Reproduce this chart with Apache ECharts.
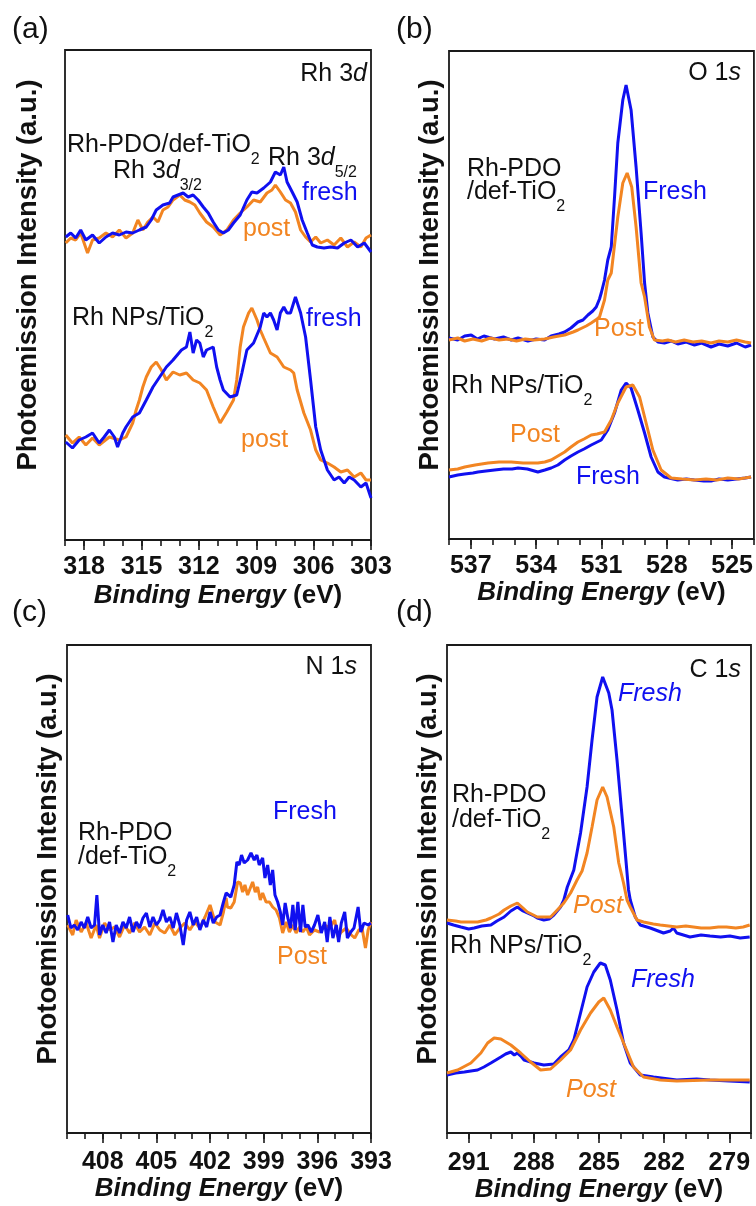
<!DOCTYPE html>
<html>
<head>
<meta charset="utf-8">
<script src="https://cdn.jsdelivr.net/npm/echarts@6/dist/echarts.min.js"></script>
<style>html,body{margin:0;padding:0;background:#fff}#c{width:756px;height:1206px}</style>
</head>
<body>
<div id="c"></div>
<script>
// ---------- tick labels ----------
const ticksA = [318, 315, 312, 309, 306, 303];
const ticksB = [537, 534, 531, 528, 525];
const ticksC = [408, 405, 402, 399, 396, 393];
const ticksD = [291, 288, 285, 282, 279];
const rangeA = [303, 319];
const rangeB = [524, 538];
const rangeC = [393, 410];
const rangeD = [278, 292];

// ---------- (a) Rh 3d ----------
const rhPdoFresh = [[318.96,303],[318.70,307],[318.44,302],[318.18,310],[317.91,300],[317.56,305],[317.21,297],[316.86,303],[316.51,307],[316.16,305],[315.81,308],[315.46,307],[315.11,310],[314.75,313],[314.49,320],[314.23,330],[313.88,335],[313.53,337],[313.35,343],[313.09,345],[312.82,347],[312.56,343],[312.30,345],[312.04,340],[311.77,333],[311.51,327],[311.25,318],[310.98,310],[310.72,307],[310.46,310],[310.19,317],[309.84,325],[309.49,340],[309.23,348],[308.96,347],[308.61,352],[308.26,358],[308.00,368],[307.74,365],[307.56,373],[307.39,358],[307.12,348],[306.86,338],[306.60,320],[306.33,307],[306.07,295],[305.81,293],[305.46,292],[305.11,293],[304.75,292],[304.40,297],[304.05,300],[303.70,293],[303.35,297],[303.00,288]];
const rhPdoPost = [[318.96,297],[318.70,302],[318.44,300],[318.18,307],[317.82,287],[317.56,300],[317.21,302],[316.86,307],[316.51,303],[316.16,310],[315.81,302],[315.46,307],[315.19,320],[314.93,310],[314.67,318],[314.40,323],[314.14,318],[313.88,330],[313.61,333],[313.35,340],[313.00,345],[312.74,340],[312.47,338],[312.21,335],[311.95,327],[311.60,318],[311.25,313],[310.89,305],[310.54,310],[310.19,320],[309.84,327],[309.49,333],[309.14,340],[308.79,338],[308.44,347],[308.18,350],[308.00,355],[307.74,348],[307.47,340],[307.21,337],[306.95,328],[306.68,310],[306.42,303],[306.16,298],[305.89,303],[305.63,297],[305.28,300],[304.93,295],[304.58,302],[304.23,293],[303.88,298],[303.53,293],[303.26,302],[303.00,305]];
const rhNpFresh = [[318.96,98],[318.61,92],[318.26,100],[317.91,103],[317.56,107],[317.21,97],[316.95,103],[316.68,110],[316.42,103],[316.25,93],[315.98,107],[315.81,113],[315.46,123],[315.11,127],[314.75,140],[314.40,153],[314.05,163],[313.70,173],[313.35,180],[312.91,190],[312.65,193],[312.47,208],[312.30,187],[312.12,200],[311.95,197],[311.77,183],[311.60,190],[311.25,193],[311.07,173],[310.89,160],[310.72,150],[310.37,143],[310.02,145],[309.75,167],[309.49,190],[309.14,197],[308.79,213],[308.61,227],[308.44,223],[308.26,227],[308.09,220],[307.91,210],[307.74,227],[307.56,233],[307.39,227],[307.21,227],[306.95,243],[306.68,227],[306.42,203],[306.16,160],[305.89,113],[305.63,90],[305.28,70],[304.93,60],[304.67,63],[304.40,57],[304.14,63],[303.88,60],[303.53,53],[303.26,57],[303.00,42]];
const rhNpPost = [[318.96,105],[318.61,97],[318.26,103],[317.91,95],[317.56,102],[317.21,95],[316.68,103],[316.16,100],[315.81,103],[315.46,117],[315.28,130],[315.11,140],[314.93,153],[314.75,163],[314.49,173],[314.23,178],[313.96,170],[313.70,160],[313.35,168],[313.00,165],[312.65,167],[312.30,160],[311.95,157],[311.60,150],[311.25,133],[310.89,117],[310.54,128],[310.19,140],[310.02,160],[309.84,193],[309.67,213],[309.40,227],[309.23,232],[308.96,220],[308.79,210],[308.61,202],[308.26,187],[307.91,183],[307.56,173],[307.21,170],[307.04,167],[306.86,150],[306.51,127],[306.16,110],[305.89,90],[305.63,80],[305.28,77],[304.93,73],[304.58,68],[304.23,70],[303.88,63],[303.53,67],[303.26,60],[303.00,60]];

// ---------- (b) O 1s ----------
const oPdoFresh = [[538.0,201],[537.6,199],[537.28,203],[536.98,204],[536.7,200],[536.4,203],[535.91,200],[535.5,202],[535.14,199],[534.83,201],[534.38,198],[534.0,200],[533.61,199],[533.31,203],[532.95,205],[532.69,207],[532.4,211],[532.08,217],[531.85,219],[531.62,224],[531.4,228],[531.24,232],[531.09,240],[531.01,246],[530.86,259],[530.71,279],[530.55,292],[530.40,342],[530.25,396],[530.02,439],[529.87,454],[529.64,429],[529.41,372],[529.18,306],[529.02,256],[528.87,226],[528.64,202],[528.41,197],[528.11,196],[527.8,198],[527.5,195],[527.1,197],[526.73,194],[526.4,196],[525.97,192],[525.6,195],[525.2,193],[524.8,196],[524.4,192],[524.13,194]];
const oPdoPost = [[538.0,199],[537.6,201],[537.28,198],[536.9,200],[536.5,198],[536.1,201],[535.7,199],[535.3,200],[534.9,198],[534.5,200],[534.1,199],[533.61,200],[533.2,202],[532.69,204],[532.3,207],[532.08,209],[531.7,213],[531.47,216],[531.2,220],[531.09,222],[530.86,239],[530.71,259],[530.55,266],[530.25,322],[530.02,356],[529.82,366],[529.61,352],[529.41,312],[529.18,256],[529.02,242],[528.80,212],[528.57,199],[528.2,198],[527.95,199],[527.6,197],[527.2,199],[526.8,197],[526.4,198],[525.97,196],[525.6,198],[525.2,197],[524.8,199],[524.4,197],[524.13,196]];
const oNpFresh = [[538.0,62],[537.6,64],[537.28,65],[536.9,66],[536.67,67],[536.3,68],[535.91,69],[535.5,70],[535.1,70],[534.83,71],[534.4,70],[533.92,67],[533.6,69],[533.31,71],[533.0,74],[532.69,79],[532.4,83],[532.08,87],[531.8,90],[531.47,94],[531.01,99],[530.71,109],[530.40,126],[530.09,149],[529.87,156],[529.64,151],[529.33,129],[529.02,106],[528.72,82],[528.41,67],[528.11,62],[527.50,59],[527.1,60],[526.73,59],[526.3,58],[525.97,58],[525.6,60],[525.20,59],[524.8,60],[524.4,61],[524.13,62]];
const oNpPost = [[538.0,69],[537.6,70],[537.28,72],[536.8,74],[536.21,76],[535.7,77],[535.14,77],[534.6,76],[533.92,76],[533.6,77],[533.31,79],[533.0,83],[532.69,87],[532.4,92],[532.08,97],[531.8,100],[531.47,104],[531.2,105],[530.86,107],[530.55,119],[530.25,136],[529.87,152],[529.56,154],[529.25,142],[528.95,116],[528.64,89],[528.26,69],[527.80,61],[527.3,60],[526.73,59],[526.2,60],[525.7,59],[525.20,61],[524.7,60],[524.13,62]];

// ---------- (c) N 1s ----------
const nPdoFresh = [[409.96,218],[409.78,205],[409.59,208],[409.40,203],[409.21,211],[409.03,205],[408.84,216],[408.65,205],[408.46,208],[408.33,238],[408.18,198],[408.00,208],[407.81,200],[407.62,211],[407.43,191],[407.25,208],[407.06,200],[406.87,211],[406.69,205],[406.50,216],[406.31,201],[406.12,211],[405.94,205],[405.75,215],[405.56,220],[405.37,206],[405.19,216],[405.00,208],[404.81,213],[404.63,223],[404.44,211],[404.25,216],[404.06,205],[403.88,220],[403.69,208],[403.50,188],[403.31,213],[403.13,221],[402.94,208],[402.75,216],[402.57,203],[402.38,213],[402.19,206],[402.00,221],[401.82,210],[401.63,216],[401.44,218],[401.25,231],[401.10,240],[401.03,238],[400.84,236],[400.65,248],[400.50,271],[400.37,268],[400.24,278],[400.09,270],[399.90,273],[399.71,280],[399.53,273],[399.38,278],[399.25,268],[399.06,275],[398.93,255],[398.78,268],[398.63,248],[398.50,263],[398.37,238],[398.22,231],[398.07,221],[397.94,208],[397.80,230],[397.65,215],[397.50,205],[397.37,228],[397.24,203],[397.09,231],[396.94,201],[396.81,228],[396.68,206],[396.53,208],[396.34,201],[396.16,208],[395.97,218],[395.78,200],[395.59,211],[395.45,191],[395.30,216],[395.13,195],[394.94,208],[394.81,191],[394.66,210],[394.47,221],[394.32,195],[394.13,201],[393.95,205],[393.72,226],[393.57,201],[393.39,210],[393.16,208],[393.00,210]];
const nPdoPost = [[409.96,208],[409.68,198],[409.49,213],[409.21,201],[408.93,210],[408.65,195],[408.37,208],[408.18,195],[407.90,210],[407.62,203],[407.34,206],[407.06,196],[406.78,208],[406.50,200],[406.22,210],[405.94,201],[405.66,206],[405.37,198],[405.09,210],[404.81,203],[404.53,200],[404.25,208],[403.97,198],[403.69,205],[403.41,210],[403.13,203],[402.85,211],[402.57,205],[402.28,216],[402.00,228],[401.72,211],[401.44,208],[401.25,221],[401.10,235],[401.03,226],[400.84,225],[400.65,231],[400.46,251],[400.31,250],[400.18,241],[400.05,248],[399.90,238],[399.75,245],[399.62,251],[399.47,241],[399.34,246],[399.19,233],[399.06,240],[398.87,231],[398.68,231],[398.50,226],[398.31,223],[398.12,215],[397.94,200],[397.75,211],[397.56,201],[397.37,208],[397.19,200],[397.00,206],[396.81,201],[396.62,206],[396.44,198],[396.16,203],[395.88,201],[395.59,208],[395.31,205],[395.03,213],[394.85,196],[394.66,201],[394.38,205],[394.10,198],[393.91,195],[393.68,203],[393.50,205],[393.31,185],[393.16,203],[393.00,211]];

// ---------- (d) C 1s ----------
const cPdoFresh = [[292.00,210],[291.7,208],[291.36,206],[291.0,204],[290.75,205],[290.4,207],[289.98,208],[289.7,212],[289.37,216],[289.06,222],[288.76,226],[288.5,222],[288.30,220],[287.99,217],[287.84,215],[287.54,213],[287.3,214],[287.08,218],[286.77,226],[286.62,233],[286.46,246],[286.16,263],[285.85,300],[285.55,346],[285.32,393],[285.09,436],[284.83,456],[284.55,440],[284.40,423],[284.17,373],[283.87,300],[283.64,243],[283.56,233],[283.33,216],[283.10,208],[282.64,205],[282.03,200],[281.72,202],[281.57,205],[281.42,200],[280.81,196],[280.3,198],[279.89,197],[279.4,196],[278.97,197],[278.5,195],[278.06,196]];
const cPdoPost = [[292.00,213],[291.6,212],[291.36,211],[290.9,211],[290.59,211],[290.2,213],[289.98,215],[289.6,219],[289.37,223],[289.06,227],[288.76,230],[288.5,225],[288.30,221],[287.84,216],[287.5,216],[287.23,216],[286.92,223],[286.62,230],[286.31,240],[286.01,253],[285.78,262],[285.55,280],[285.32,306],[285.09,333],[284.83,346],[284.63,336],[284.32,306],[284.09,270],[283.87,250],[283.71,233],[283.56,226],[283.25,213],[282.95,211],[282.5,209],[282.18,208],[281.8,207],[281.42,206],[281.0,207],[280.65,206],[280.3,205],[279.89,205],[279.5,206],[279.13,206],[278.7,205],[278.36,206],[278.06,208]];
const cNpFresh = [[292.00,58],[291.6,60],[291.20,61],[290.9,62],[290.59,63],[290.3,66],[289.98,70],[289.52,76],[289.3,79],[289.06,81],[288.9,78],[288.76,80],[288.6,77],[288.45,73],[287.99,70],[287.54,68],[287.08,69],[286.77,76],[286.39,83],[286.16,93],[285.85,120],[285.55,146],[285.24,161],[284.94,170],[284.71,168],[284.48,153],[284.17,123],[283.87,90],[283.56,70],[283.10,58],[282.49,56],[281.42,53],[280.5,54],[279.89,53],[279.0,52],[278.06,51]];
const cNpPost = [[292.00,60],[291.51,63],[290.90,70],[290.44,80],[290.13,90],[289.83,95],[289.52,94],[289.06,88],[288.61,80],[288.15,71],[287.69,63],[287.23,64],[286.77,73],[286.31,83],[285.85,103],[285.39,120],[285.01,131],[284.78,135],[284.48,123],[284.17,106],[283.79,86],[283.41,66],[282.95,56],[282.18,53],[281.42,52],[279.89,53],[278.06,53]];

// ---------- styling ----------
const BLUE = '#1010f0';
const ORANGE = '#f28522';
const INK = '#111111';
const FRAME = '#1a1a1a';
const FONT = '"Liberation Sans", Arial, Helvetica, sans-serif';

const grids = [
  {left: 65, top: 50, width: 306, height: 490},
  {left: 449, top: 51, width: 305, height: 488},
  {left: 67, top: 645, width: 304, height: 488},
  {left: 447, top: 645, width: 304, height: 488}
].map(g => Object.assign(g, {show: true, borderColor: FRAME, borderWidth: 1.8, backgroundColor: 'transparent', containLabel: false}));

const ranges = [rangeA, rangeB, rangeC, rangeD];
const ticks = [ticksA, ticksB, ticksC, ticksD];
const labelMargins = [15, 15, 17, 18];
const nameGaps = [43, 35, 42, 43];
const yNameGaps = [23, 5, 5, 5];

const xValueAxes = ranges.map((r, i) => ({
  type: 'value', gridIndex: i, min: r[0], max: r[1], interval: 1, inverse: true,
  position: 'bottom', offset: 0,
  axisLine: {show: false}, splitLine: {show: false},
  axisTick: {show: true, length: 6, lineStyle: {color: FRAME, width: 1.6}},
  axisLabel: {show: false}
}));

const xCatAxes = ranges.map((r, i) => {
  const cats = [];
  for (let v = r[1]; v >= r[0]; v--) cats.push(String(v));
  const isMajor = (idx, val) => ticks[i].indexOf(Number(val)) >= 0;
  return {
    type: 'category', gridIndex: i, data: cats, boundaryGap: false,
    position: 'bottom', offset: 0,
    axisLine: {show: false}, splitLine: {show: false},
    axisTick: {show: true, length: 10, interval: isMajor, lineStyle: {color: FRAME, width: 1.6}},
    axisLabel: {show: true, interval: isMajor, margin: labelMargins[i], fontSize: 25, fontWeight: 'bold', color: INK, fontFamily: FONT},
    name: '{i|Binding Energy} {n|(eV)}',
    nameLocation: 'middle', nameGap: nameGaps[i],
    nameTextStyle: {
      fontSize: 26, fontWeight: 'bold', color: INK, fontFamily: FONT, lineHeight: 26,
      rich: {
        i: {fontSize: 26, fontWeight: 'bold', fontStyle: 'italic', color: INK, fontFamily: FONT, lineHeight: 26},
        n: {fontSize: 26, fontWeight: 'bold', color: INK, fontFamily: FONT, lineHeight: 26}
      }
    }
  };
});

const yAxes = grids.map((g, i) => ({
  type: 'value', gridIndex: i, min: 0, max: g.height,
  axisLine: {show: false}, axisTick: {show: false}, axisLabel: {show: false}, splitLine: {show: false},
  name: 'Photoemission Intensity (a.u.)', nameLocation: 'middle', nameRotate: 90, nameGap: yNameGaps[i],
  nameTextStyle: {fontSize: 27.5, fontWeight: 'bold', color: INK, fontFamily: FONT, padding: [0, 0, 0, 40]}
}));

function line(data, color, panel) {
  return {
    type: 'line', data: data, xAxisIndex: panel, yAxisIndex: panel,
    showSymbol: false, symbol: 'none', smooth: false, clip: true,
    lineStyle: {color: color, width: 3}, itemStyle: {color: color},
    emphasis: {disabled: true}, silent: true, animation: false
  };
}

const series = [
  line(rhPdoPost, ORANGE, 0), line(rhPdoFresh, BLUE, 0),
  line(rhNpPost, ORANGE, 0), line(rhNpFresh, BLUE, 0),
  line(oPdoFresh, BLUE, 1), line(oPdoPost, ORANGE, 1),
  line(oNpFresh, BLUE, 1), line(oNpPost, ORANGE, 1),
  line(nPdoPost, ORANGE, 2), line(nPdoFresh, BLUE, 2),
  line(cPdoFresh, BLUE, 3), line(cPdoPost, ORANGE, 3),
  line(cNpFresh, BLUE, 3), line(cNpPost, ORANGE, 3)
];

// ---------- text annotations ----------
function richFor(color) {
  return {
    m: {fontSize: 25, lineHeight: 28, verticalAlign: 'top', color: color, fontFamily: FONT},
    i: {fontSize: 25, lineHeight: 28, verticalAlign: 'top', color: color, fontFamily: FONT, fontStyle: 'italic'},
    s: {fontSize: 16, lineHeight: 16, verticalAlign: 'top', color: color, fontFamily: FONT, padding: [18.5, 0, 0, 0]},
    p: {fontSize: 30, lineHeight: 32, verticalAlign: 'top', color: color, fontFamily: FONT}
  };
}
function note(text, pos, color) {
  return Object.assign({
    text: text, padding: 0, itemGap: 0,
    textStyle: {color: color || INK, fontSize: 25, fontWeight: 'normal', fontFamily: FONT, rich: richFor(color || INK)}
  }, pos);
}

const titles = [
  // panel letters
  note('{p|(a)}', {left: 12, top: 15}),
  note('{p|(b)}', {left: 396, top: 15}),
  note('{p|(c)}', {left: 12, top: 598}),
  note('{p|(d)}', {left: 396, top: 598}),
  // (a)
  note('{m|Rh 3}{i|d}', {right: 389, top: 62}),
  note('{m|Rh-PDO/def-TiO}{s|2}', {left: 67, top: 133}),
  note('{m|Rh 3}{i|d}{s|3/2}', {left: 113, top: 159}),
  note('{m|Rh 3}{i|d}{s|5/2}', {left: 268, top: 146}),
  note('{m|fresh}', {left: 302, top: 181}, BLUE),
  note('{m|post}', {left: 243, top: 217}, ORANGE),
  note('{m|Rh NPs/TiO}{s|2}', {left: 72, top: 306}),
  note('{m|fresh}', {left: 306, top: 307}, BLUE),
  note('{m|post}', {left: 241, top: 428}, ORANGE),
  // (b)
  note('{m|O 1}{i|s}', {right: 15, top: 61}),
  note('{m|Rh-PDO}', {left: 467, top: 157}),
  note('{m|/def-TiO}{s|2}', {left: 467, top: 180}),
  note('{m|Fresh}', {left: 643, top: 180}, BLUE),
  note('{m|Post}', {left: 594, top: 317}, ORANGE),
  note('{m|Rh NPs/TiO}{s|2}', {left: 451, top: 374}),
  note('{m|Post}', {left: 510, top: 423}, ORANGE),
  note('{m|Fresh}', {left: 576, top: 465}, BLUE),
  // (c)
  note('{m|N 1}{i|s}', {right: 399, top: 655}),
  note('{m|Fresh}', {left: 273, top: 800}, BLUE),
  note('{m|Rh-PDO}', {left: 78, top: 821}),
  note('{m|/def-TiO}{s|2}', {left: 78, top: 845}),
  note('{m|Post}', {left: 277, top: 945}, ORANGE),
  // (d)
  note('{m|C 1}{i|s}', {right: 15, top: 658}),
  note('{i|Fresh}', {left: 618, top: 682}, BLUE),
  note('{m|Rh-PDO}', {left: 452, top: 783}),
  note('{m|/def-TiO}{s|2}', {left: 452, top: 808}),
  note('{i|Post}', {left: 573, top: 894}, ORANGE),
  note('{m|Rh NPs/TiO}{s|2}', {left: 450, top: 934}),
  note('{i|Fresh}', {left: 631, top: 968}, BLUE),
  note('{i|Post}', {left: 566, top: 1078}, ORANGE)
];

const chart = echarts.init(document.getElementById('c'), null, {renderer: 'canvas', width: 756, height: 1206});
chart.setOption({
  backgroundColor: '#ffffff',
  animation: false,
  textStyle: {fontFamily: FONT},
  title: titles,
  grid: grids,
  xAxis: xValueAxes.concat(xCatAxes),
  yAxis: yAxes,
  series: series
});
</script>
</body>
</html>
